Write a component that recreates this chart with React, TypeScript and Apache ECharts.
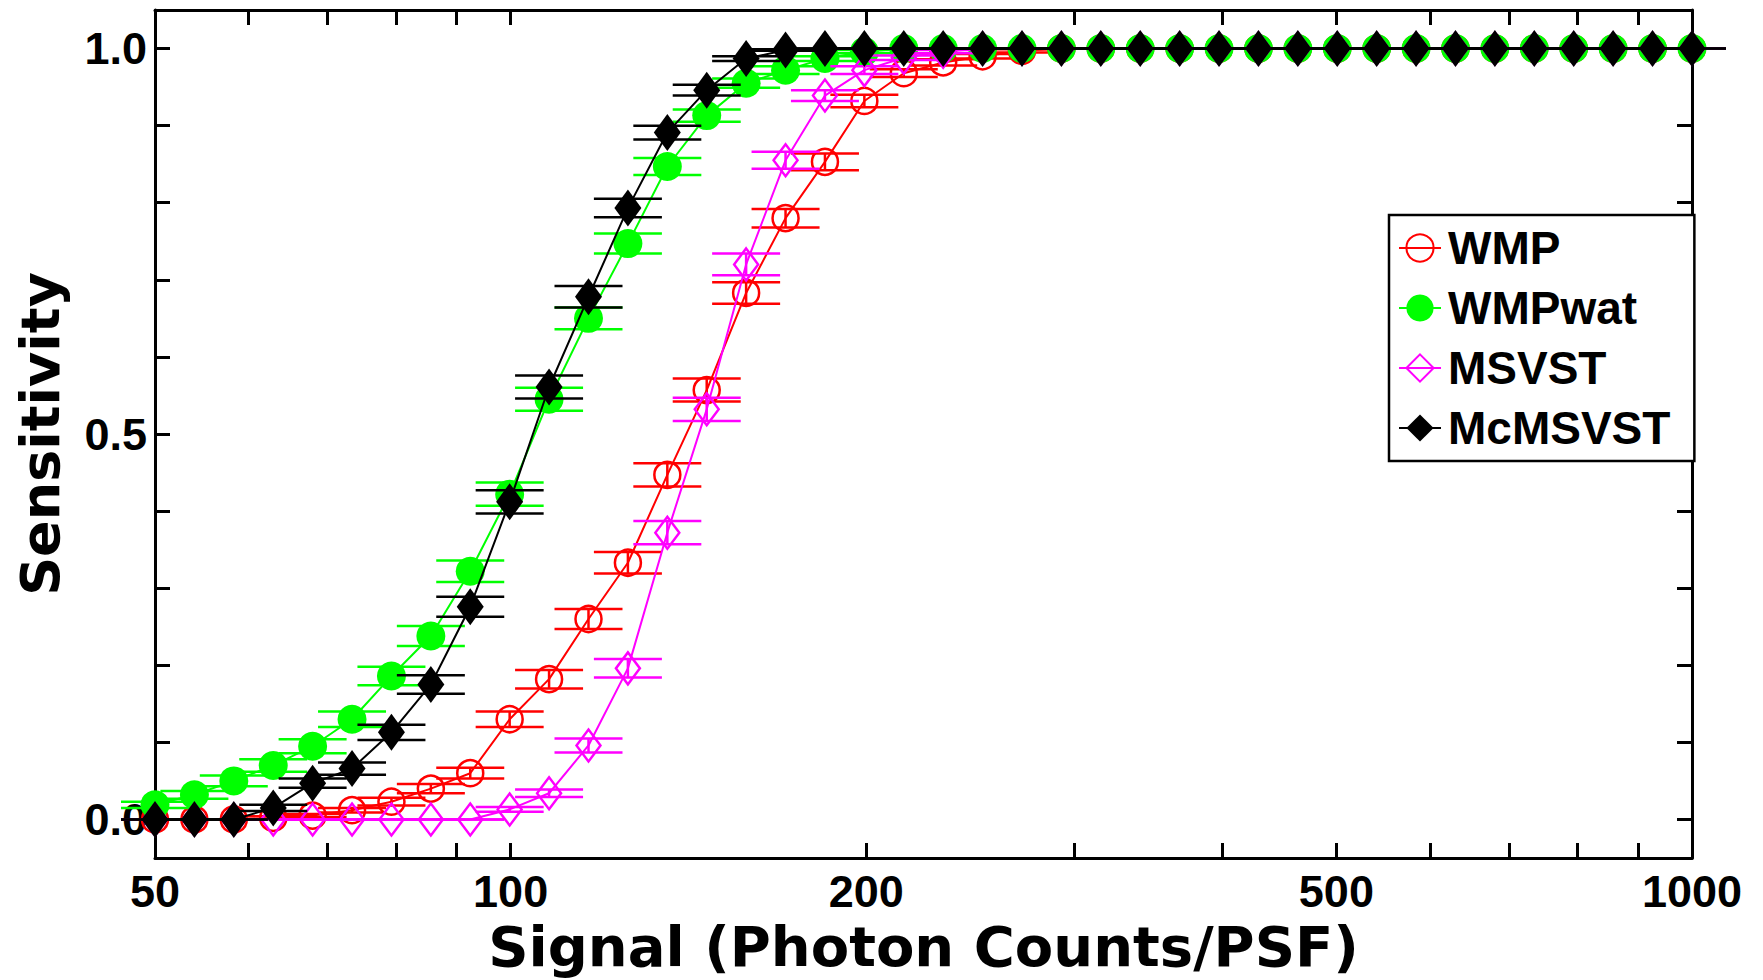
import React, { useEffect, useRef } from 'react';
import * as echarts from 'echarts';

// Signal levels (photon counts / PSF), log-spaced sample points
const SIGNAL = [
  50.0, 53.99, 58.3, 62.96, 67.98, 73.41, 79.27, 85.6, 92.43, 99.81,
  107.78, 116.39, 125.68, 135.72, 146.55, 158.25, 170.89, 184.53, 199.26, 215.17,
  232.35, 250.9, 270.93, 292.56, 315.91, 341.14, 368.37, 397.78, 429.54, 463.83,
  500.86, 540.85, 584.03, 630.65, 681.0, 735.37, 794.08, 857.47, 925.93, 1000.0,
];

const WMP = [
  0, 0, 0, 0.002, 0.005, 0.012, 0.023, 0.04, 0.06, 0.13,
  0.182, 0.26, 0.333, 0.447, 0.557, 0.683, 0.78, 0.853, 0.932, 0.968,
  0.982, 0.99, 0.997, 1, 1, 1, 1, 1, 1, 1,
  1, 1, 1, 1, 1, 1, 1, 1, 1, 1,
];
const WMP_ERR = [
  0, 0, 0, 0.002, 0.002, 0.003, 0.005, 0.006, 0.007, 0.01,
  0.012, 0.013, 0.014, 0.015, 0.015, 0.014, 0.012, 0.011, 0.008, 0.005,
  0.004, 0.003, 0.002, 0, 0, 0, 0, 0, 0, 0,
  0, 0, 0, 0, 0, 0, 0, 0, 0, 0,
];

const WMPWAT = [
  0.019, 0.032, 0.05, 0.07, 0.095, 0.13, 0.186, 0.238, 0.322, 0.422,
  0.545, 0.65, 0.747, 0.847, 0.913, 0.955, 0.972, 0.987, 0.996, 1,
  1, 1, 1, 1, 1, 1, 1, 1, 1, 1,
  1, 1, 1, 1, 1, 1, 1, 1, 1, 1,
];
const WMPWAT_ERR = [
  0.004, 0.005, 0.007, 0.008, 0.009, 0.01, 0.012, 0.013, 0.014, 0.015,
  0.015, 0.014, 0.013, 0.011, 0.008, 0.006, 0.005, 0.003, 0.002, 0,
  0, 0, 0, 0, 0, 0, 0, 0, 0, 0,
  0, 0, 0, 0, 0, 0, 0, 0, 0, 0,
];

const MSVST = [
  0, 0, 0, 0, 0, 0, 0, 0, 0, 0.013,
  0.034, 0.096, 0.196, 0.372, 0.532, 0.72, 0.855, 0.939, 0.972, 0.988,
  0.996, 1, 1, 1, 1, 1, 1, 1, 1, 1,
  1, 1, 1, 1, 1, 1, 1, 1, 1, 1,
];
const MSVST_ERR = [
  0, 0, 0, 0, 0, 0, 0, 0, 0, 0.003,
  0.005, 0.009, 0.012, 0.015, 0.015, 0.014, 0.011, 0.007, 0.005, 0.003,
  0.002, 0, 0, 0, 0, 0, 0, 0, 0, 0,
  0, 0, 0, 0, 0, 0, 0, 0, 0, 0,
];

const MCMSVST = [
  0, 0, 0, 0.015, 0.047, 0.066, 0.113, 0.175, 0.276, 0.412,
  0.561, 0.678, 0.793, 0.891, 0.946, 0.987, 0.998, 1, 1, 1,
  1, 1, 1, 1, 1, 1, 1, 1, 1, 1,
  1, 1, 1, 1, 1, 1, 1, 1, 1, 1,
];
const MCMSVST_ERR = [
  0, 0, 0, 0.004, 0.006, 0.008, 0.01, 0.012, 0.013, 0.015,
  0.015, 0.014, 0.012, 0.009, 0.007, 0.003, 0.001, 0, 0, 0,
  0, 0, 0, 0, 0, 0, 0, 0, 0, 0,
  0, 0, 0, 0, 0, 0, 0, 0, 0, 0,
];

const SERIES_NAMES = ['WMP', 'WMPwat', 'MSVST', 'McMSVST'];
const X_TICKS = [50, 60, 70, 80, 90, 100, 200, 300, 400, 500, 600, 700, 800, 900, 1000];
const X_LABELS = [50, 100, 200, 500, 1000];
const Y_TICKS = [0, 0.1, 0.2, 0.3, 0.4, 0.5, 0.6, 0.7, 0.8, 0.9, 1.0];
const Y_LABELS = [0, 0.5, 1.0];
const X_MIN = 50;
const X_MAX = 1000;
const Y_MIN = -0.05;
const Y_MAX = 1.05;

const X_TITLE = 'Signal (Photon Counts/PSF)';
const Y_TITLE = 'Sensitivity';

const FONT = "'Liberation Sans', Arial, Helvetica, sans-serif";
const NAME_FONT = "'DejaVu Sans', 'Liberation Sans', sans-serif";

const lg = (v: number) => Math.log10(v);

export default function App() {
  const ref = useRef<HTMLDivElement>(null);

  useEffect(() => {
    if (!ref.current) return;
    const chart = echarts.init(ref.current, undefined, { renderer: 'svg' });

    const specs = [
      { name: SERIES_NAMES[0], y: WMP, err: WMP_ERR, color: '#ff0000', symbol: 'circle', size: 26 as any, filled: false },
      { name: SERIES_NAMES[1], y: WMPWAT, err: WMPWAT_ERR, color: '#00ff00', symbol: 'circle', size: 29 as any, filled: true },
      { name: SERIES_NAMES[2], y: MSVST, err: MSVST_ERR, color: '#ff00ff', symbol: 'diamond', size: [24, 32] as any, filled: false },
      { name: SERIES_NAMES[3], y: MCMSVST, err: MCMSVST_ERR, color: '#000000', symbol: 'diamond', size: [27, 37] as any, filled: true },
    ];

    const series: any[] = [];
    specs.forEach((s, i) => {
      const color = s.color;
      series.push({
        type: 'custom',
        name: s.name + ' error',
        xAxisIndex: 0,
        yAxisIndex: 0,
        z: 2 + 2 * i,
        silent: true,
        encode: { x: 0, y: 1 },
        data: SIGNAL.map((x, j) => [x, s.y[j], s.err[j]]),
        renderItem: (params: any, api: any) => {
          const x = api.value(0);
          const v = api.value(1);
          const e = api.value(2);
          const hi = api.coord([x, v + e]);
          const lo = api.coord([x, v - e]);
          const half = 34;
          const st = { stroke: color, lineWidth: 2.5 };
          return {
            type: 'group',
            children: [
              { type: 'line', shape: { x1: hi[0], y1: hi[1], x2: lo[0], y2: lo[1] }, style: st },
              { type: 'line', shape: { x1: hi[0] - half, y1: hi[1], x2: hi[0] + half, y2: hi[1] }, style: st },
              { type: 'line', shape: { x1: lo[0] - half, y1: lo[1], x2: lo[0] + half, y2: lo[1] }, style: st },
            ],
          };
        },
      });
      series.push({
        type: 'line',
        name: s.name,
        xAxisIndex: 0,
        yAxisIndex: 0,
        z: 3 + 2 * i,
        data: SIGNAL.map((x, j) => [x, s.y[j]]),
        symbol: s.symbol,
        symbolSize: s.size,
        showSymbol: true,
        lineStyle: { color, width: 2 },
        itemStyle: s.filled
          ? { color, borderWidth: 0 }
          : { color: 'rgba(255,255,255,0)', borderColor: color, borderWidth: 2.5 },
        emphasis: { disabled: true },
      });
    });

    const axisLineStyle = { color: '#000', width: 3 };
    const tickStyle = { color: '#000', width: 3 };
    const labelStyle = { color: '#000', fontSize: 45, fontWeight: 'bold', fontFamily: FONT };
    const nameStyle = { color: '#000', fontWeight: 'bold', fontFamily: NAME_FONT };

    const option: any = {
      animation: false,
      backgroundColor: '#ffffff',
      grid: {
        left: 155,
        right: 71,
        top: 10,
        bottom: 122,
        containLabel: false,
        outerBoundsMode: 'none',
      },
      legend: {
        orient: 'vertical',
        left: 1389,
        top: 215,
        padding: [10, 24, 10, 9],
        itemGap: 14,
        itemWidth: 42,
        itemHeight: 34,
        borderColor: '#000',
        borderWidth: 2.5,
        borderRadius: 0,
        backgroundColor: '#ffffff',
        selectedMode: false,
        data: SERIES_NAMES,
        textStyle: { color: '#000', fontSize: 46, fontWeight: 'bold', fontFamily: FONT, padding: [0, 0, 0, 2] },
      },
      xAxis: [
        { type: 'log', logBase: 10, min: X_MIN, max: X_MAX, show: false },
        {
          type: 'value',
          position: 'bottom',
          min: lg(X_MIN),
          max: lg(X_MAX),
          axisLine: { show: true, onZero: false, lineStyle: axisLineStyle },
          axisTick: { show: true, inside: true, length: 15, customValues: X_TICKS.map(lg), lineStyle: tickStyle },
          axisLabel: {
            show: true,
            customValues: X_LABELS.map(lg),
            formatter: (v: number) => String(Math.round(Math.pow(10, v))),
            margin: 11,
            showMinLabel: true,
            showMaxLabel: true,
            hideOverlap: false,
            ...labelStyle,
          },
          splitLine: { show: false },
          name: X_TITLE,
          nameLocation: 'middle',
          nameGap: 53,
          nameTextStyle: { ...nameStyle, fontSize: 56 },
        },
        {
          type: 'value',
          position: 'top',
          min: lg(X_MIN),
          max: lg(X_MAX),
          axisLine: { show: true, onZero: false, lineStyle: axisLineStyle },
          axisTick: { show: true, inside: true, length: 15, customValues: X_TICKS.map(lg), lineStyle: tickStyle },
          axisLabel: { show: false },
          splitLine: { show: false },
        },
      ],
      yAxis: [
        {
          type: 'value',
          position: 'left',
          min: Y_MIN,
          max: Y_MAX,
          axisLine: { show: true, onZero: false, lineStyle: axisLineStyle },
          axisTick: { show: true, inside: true, length: 15, customValues: Y_TICKS, lineStyle: tickStyle },
          axisLabel: {
            show: true,
            customValues: Y_LABELS,
            formatter: (v: number) => v.toFixed(1),
            margin: 8,
            showMinLabel: true,
            showMaxLabel: true,
            ...labelStyle,
          },
          splitLine: { show: false },
          name: Y_TITLE,
          nameLocation: 'middle',
          nameGap: 88,
          nameTextStyle: { ...nameStyle, fontSize: 54 },
        },
        {
          type: 'value',
          position: 'right',
          min: Y_MIN,
          max: Y_MAX,
          axisLine: { show: true, onZero: false, lineStyle: axisLineStyle },
          axisTick: { show: true, inside: true, length: 15, customValues: Y_TICKS, lineStyle: tickStyle },
          axisLabel: { show: false },
          splitLine: { show: false },
        },
      ],
      series,
    };

    chart.setOption(option);
    return () => {
      chart.dispose();
    };
  }, []);

  return (
    <div
      ref={ref}
      style={{ position: 'fixed', left: 0, top: 0, width: 1763, height: 980, background: '#fff' }}
    />
  );
}
